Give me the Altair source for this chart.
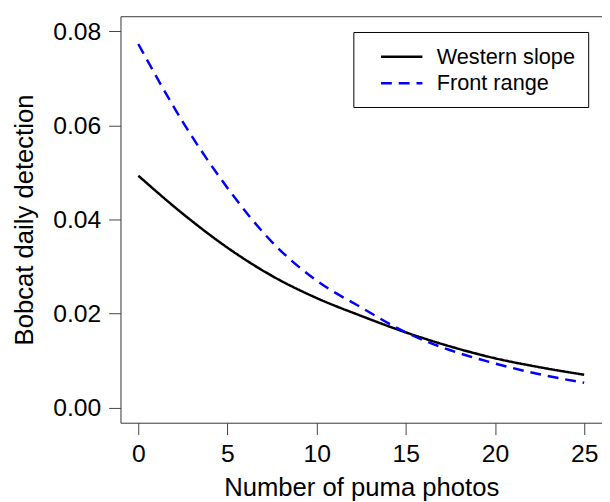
import altair as alt
import pandas as pd

# x positions (number of puma photos)
x_vals = [0, 2.5, 5, 7.5, 10, 12.5, 15, 17.5, 20, 22.5, 25]
# Bobcat daily detection
western_slope = [0.0493, 0.0412, 0.0340, 0.0280, 0.0233, 0.0195, 0.0160, 0.0130, 0.0105, 0.0086, 0.0070]
front_range = [0.0773, 0.0607, 0.0467, 0.0352, 0.0270, 0.0213, 0.0160, 0.0122, 0.0094, 0.0071, 0.0053]
series_names = ["Western slope", "Front range"]
series_colors = ["#000000", "#0000FF"]
series_dash = [[1, 0], [11, 7]]
y_ticks = [0.0, 0.02, 0.04, 0.06, 0.08]
x_ticks = [0, 5, 10, 15, 20, 25]

rows = []
for name, vals in zip(series_names, [western_slope, front_range]):
    for xv, yv in zip(x_vals, vals):
        rows.append({"x": xv, "y": yv, "series": name})
df = pd.DataFrame(rows)

FONT = "Liberation Sans"
xscale = alt.Scale(domain=[-1, 26], nice=False, zero=False)
yscale = alt.Scale(domain=[-0.0032, 0.0832], nice=False, zero=False)


def make_legend():
    return alt.Legend(orient="none", legendX=236, legendY=16, title=None,
                      strokeColor="#000", fillColor="#fff", padding=13,
                      symbolType="M-2,0H2", symbolSize=441, symbolStrokeWidth=2.5,
                      symbolOffset=24, symbolDash=[8, 18],
                      labelFontSize=22, labelFont=FONT, labelColor="#000",
                      labelOffset=23.5, rowPadding=4)


lines = alt.Chart(df).mark_line(strokeWidth=2.5, interpolate="monotone").encode(
    x=alt.X("x:Q", scale=xscale,
            axis=alt.Axis(values=x_ticks, title="Number of puma photos", grid=False,
                          domain=True, domainColor="#444", tickColor="#444", tickSize=12,
                          labelFontSize=25, labelFont=FONT, labelColor="#000", labelPadding=7,
                          titleFontSize=26, titleFont=FONT, titleFontWeight="normal",
                          titleColor="#000", titleBaseline="alphabetic", titleY=74)),
    y=alt.Y("y:Q", scale=yscale,
            axis=alt.Axis(values=y_ticks, format=".2f", title="Bobcat daily detection", grid=False,
                          domain=True, domainColor="#444", tickColor="#444", tickSize=12,
                          labelFontSize=25, labelFont=FONT, labelColor="#000", labelPadding=8,
                          titleFontSize=26, titleFont=FONT, titleFontWeight="normal",
                          titleColor="#000", titleBaseline="alphabetic", titleX=-89, titleY=206,
                          titleAngle=-90)),
    color=alt.Color("series:N", sort=series_names,
                    scale=alt.Scale(domain=series_names, range=series_colors),
                    legend=make_legend()),
    strokeDash=alt.StrokeDash("series:N", sort=series_names,
                              scale=alt.Scale(domain=series_names, range=series_dash),
                              legend=make_legend()),
)

topframe = alt.Chart(df).mark_rule(opacity=0).encode(
    x=alt.X("x:Q", scale=xscale,
            axis=alt.Axis(orient="top", labels=False, ticks=False, domain=True,
                          domainColor="#444", grid=False, title=None)),
)

chart = alt.layer(lines, topframe).resolve_axis(x="independent").properties(
    width=488, height=412,
    padding={"left": 114, "top": 5, "right": 0, "bottom": 77},
    autosize="none",
).configure_view(stroke=None).configure(font=FONT)

chart.save("out.html", embed_options={"renderer": "svg", "actions": False})
